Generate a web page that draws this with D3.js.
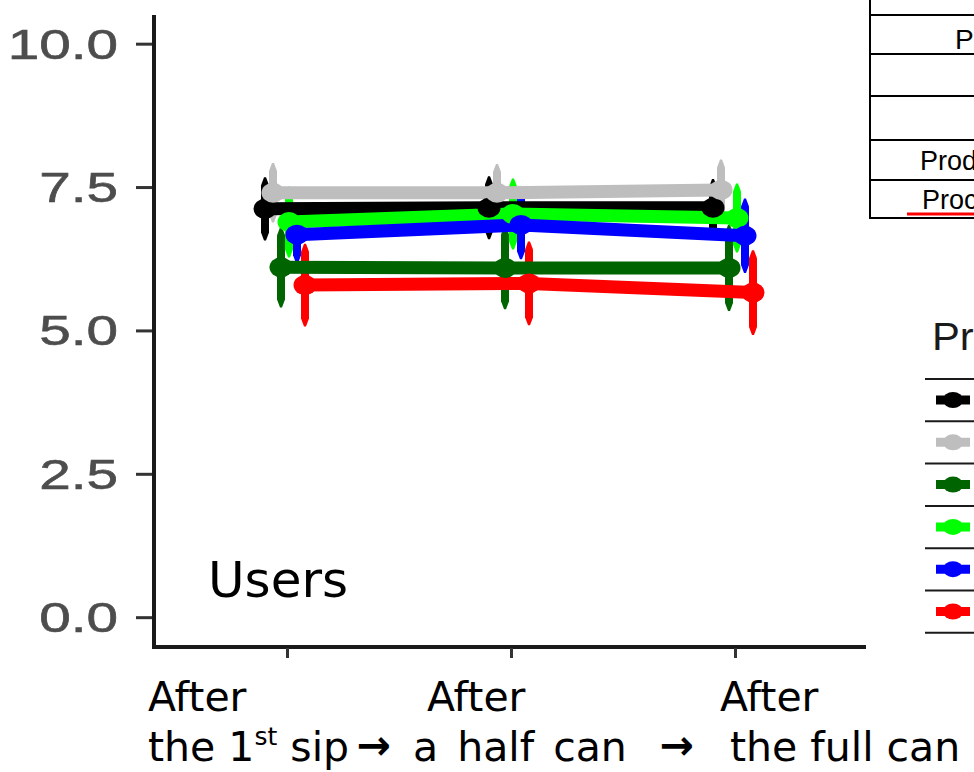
<!DOCTYPE html>
<html><head><meta charset="utf-8">
<script src="https://cdn.jsdelivr.net/npm/d3@7"></script>
<style>html,body{margin:0;padding:0;background:#fff;overflow:hidden}</style>
</head><body>
<script>
const timepoints = ["After the 1st sip", "After a half can", "After the full can"];
const series = ["Product A", "Product B", "Product C", "Product D", "Product E", "Product F"];
const colors = ["#000000", "#bebebe", "#006400", "#00ff00", "#0000ff", "#ff0000"];
const meanA = [7.12, 7.14, 7.14];
const meanB = [7.40, 7.40, 7.45];
const meanC = [6.10, 6.09, 6.09];
const meanD = [6.89, 7.03, 6.96];
const meanE = [6.67, 6.84, 6.65];
const meanF = [5.79, 5.82, 5.66];
const errA = [0.55, 0.55, 0.50];
const errB = [0.52, 0.50, 0.53];
const errC = [0.70, 0.72, 0.75];
const errD = [0.62, 0.62, 0.60];
const errE = [0.50, 0.60, 0.65];
const errF = [0.72, 0.73, 0.74];
const yTicks = [0, 2.5, 5, 7.5, 10];
const means = [meanA, meanB, meanC, meanD, meanE, meanF];
const errs = [errA, errB, errC, errD, errE, errF];
const tableRows = ["", "P", "", "", "Prod", "Proc"];
const panelLabel = "Users";
const legendTitle = "Pr";

const W = 974, H = 772;
const svg = d3.select("body").append("svg").attr("width", W).attr("height", H)
  .style("font-family", "Arial, 'Liberation Sans', sans-serif");
svg.append("rect").attr("width", W).attr("height", H).attr("fill", "#fff");

const y = d3.scaleLinear().domain([-0.52, 10.5]).range([647, 15]);
const x = d3.scalePoint().domain(timepoints).range([287, 735]);
const dodge = d3.scalePoint().domain(series).range([-22, 18]);
const SX = 1.35;

const data = series.map((s, i) => ({
  name: s, color: colors[i],
  pts: timepoints.map((t, j) => ({t, m: means[i][j], e: errs[i][j], x: x(t) + dodge(s)}))
}));

// axes
const axisG = svg.append("g");
axisG.append("line").attr("x1", 154).attr("x2", 154).attr("y1", 15).attr("y2", 649)
  .attr("stroke", "#1a1a1a").attr("stroke-width", 4);
axisG.append("line").attr("x1", 152).attr("x2", 866).attr("y1", 647).attr("y2", 647)
  .attr("stroke", "#1a1a1a").attr("stroke-width", 4);

const yAxis = d3.axisLeft(y).tickValues(yTicks).tickSize(16).tickPadding(0).tickFormat(d3.format(".1f"));
const gy = svg.append("g").attr("transform", "translate(152,0)").call(yAxis);
gy.select(".domain").remove();
gy.selectAll(".tick line").attr("stroke", "#333").attr("stroke-width", 3);
gy.selectAll(".tick text").remove();
yTicks.forEach(v => {
  svg.append("text").attr("transform", `translate(118,${y(v) + 15}) scale(${SX},1)`)
    .attr("text-anchor", "end").attr("font-size", 42).attr("fill", "#4d4d4d")
    .attr("stroke", "#4d4d4d").attr("stroke-width", 0.6)
    .text(d3.format(".1f")(v));
});

const xAxis = d3.axisBottom(x).tickSize(10).tickFormat("");
const gx = svg.append("g").attr("transform", "translate(0,648)").call(xAxis);
gx.select(".domain").remove();
gx.selectAll(".tick line").attr("stroke", "#333").attr("stroke-width", 3);

// x labels (Verdana-like)
const FS = 41;
const lab = svg.append("g").style("font-family", "'DejaVu Sans', Verdana, sans-serif").attr("fill", "#000");
[["After", 148], ["After", 427], ["After", 720]].forEach(([t, px]) => {
  lab.append("text").attr("x", px).attr("y", 711).attr("font-size", FS).text(t);
});
const p1 = lab.append("text").attr("x", 148).attr("y", 761).attr("font-size", FS);
p1.append("tspan").text("the 1");
p1.append("tspan").attr("font-size", 25).attr("dy", -16).text("st");
p1.append("tspan").attr("dy", 16).text(" sip");
lab.append("text").attr("x", 391).attr("y", 759).attr("text-anchor", "end")
  .attr("font-size", FS).attr("font-weight", "bold").text("\u2192");
lab.append("text").attr("x", 413).attr("y", 761).attr("font-size", FS)
  .attr("word-spacing", 6).text("a half can");
lab.append("text").attr("x", 694).attr("y", 759).attr("text-anchor", "end")
  .attr("font-size", FS).attr("font-weight", "bold").text("\u2192");
lab.append("text").attr("x", 730).attr("y", 761).attr("font-size", FS).text("the full can");

// panel label
svg.append("text").attr("x", 208).attr("y", 597).attr("font-size", 50)
  .style("font-family", "'DejaVu Sans', Verdana, sans-serif").text(panelLabel);

// error bars
function barPath(xc, y1, y2, w) {
  const tip = 8;
  const top = Math.min(y1, y2), bot = Math.max(y1, y2);
  return `M${xc - w / 2},${top + tip} L${xc - 1},${top} L${xc + 1},${top} L${xc + w / 2},${top + tip}` +
         ` L${xc + w / 2},${bot - tip} L${xc + 1},${bot} L${xc - 1},${bot} L${xc - w / 2},${bot - tip} Z`;
}
const eb = svg.append("g");
data.forEach(s => {
  eb.selectAll(null).data(s.pts).enter().append("path")
    .attr("d", d => barPath(d.x, y(d.m + d.e), y(d.m - d.e), 8))
    .attr("fill", s.color);
});

// lines
const line = d3.line().x(d => d.x).y(d => y(d.m));
data.forEach(s => {
  svg.append("path").datum(s.pts).attr("d", line).attr("fill", "none")
    .attr("stroke", s.color).attr("stroke-width", 13);
});
// points
data.forEach(s => {
  svg.selectAll(null).data(s.pts).enter().append("ellipse")
    .attr("cx", d => d.x).attr("cy", d => y(d.m)).attr("rx", 11.5).attr("ry", 10)
    .attr("fill", s.color);
});

// table (top right, cropped in the reference)
const tb = svg.append("g");
const rowLines = [15, 54, 96, 140, 180, 218];
tb.append("line").attr("x1", 870).attr("x2", 870).attr("y1", 0).attr("y2", 219)
  .attr("stroke", "#000").attr("stroke-width", 2);
rowLines.forEach(v => tb.append("line").attr("x1", 869).attr("x2", W).attr("y1", v).attr("y2", v)
  .attr("stroke", "#000").attr("stroke-width", 2));
tb.append("text").attr("x", 955).attr("y", 49).attr("font-size", 28).text(tableRows[1]);
tb.append("text").attr("x", 920).attr("y", 170).attr("font-size", 27).text(tableRows[4]);
tb.append("text").attr("x", 922).attr("y", 209).attr("font-size", 27).text(tableRows[5]);
tb.append("line").attr("x1", 907).attr("x2", W).attr("y1", 214).attr("y2", 214)
  .attr("stroke", "#ff0000").attr("stroke-width", 3);

// legend (cropped in the reference)
const lg = svg.append("g");
lg.append("text").attr("transform", `translate(932,350) scale(1.1,1)`)
  .attr("font-size", 38).attr("fill", "#1a1a1a").text(legendTitle);
const sepY = d3.range(7).map(i => 379 + i * 42.3);
sepY.forEach(v => lg.append("line").attr("x1", 925).attr("x2", W).attr("y1", v).attr("y2", v)
  .attr("stroke", "#1a1a1a").attr("stroke-width", 2));
data.forEach((s, i) => {
  const cy = sepY[i] + 21;
  lg.append("line").attr("x1", 936).attr("x2", 970).attr("y1", cy).attr("y2", cy)
    .attr("stroke", s.color).attr("stroke-width", 9);
  lg.append("ellipse").attr("cx", 953).attr("cy", cy).attr("rx", 10).attr("ry", 8).attr("fill", s.color);
});
</script>
</body></html>
